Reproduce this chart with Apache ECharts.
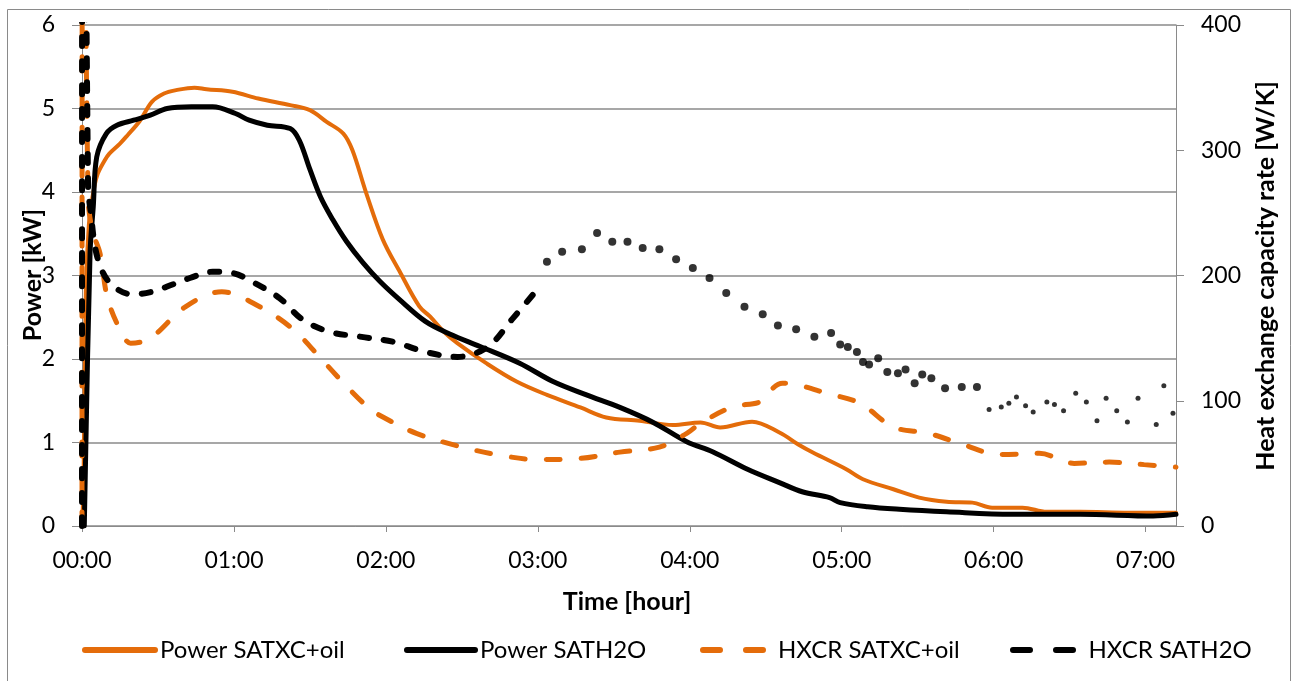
<!DOCTYPE html>
<html>
<head>
<meta charset="utf-8">
<script src="https://cdn.jsdelivr.net/npm/echarts@6/dist/echarts.min.js"></script>
<style>
	html, body { margin: 0; padding: 0; background: #fff; }
	#main { width: 1294px; height: 681px; }
</style>
</head>
<body>
<div id="main"></div>
<script>
// time in hours, power in kW, heat exchange capacity rate in W/K
let powerOilT = [0, 0.01, 0.025, 0.045, 0.07, 0.1, 0.15, 0.18, 0.25, 0.3, 0.38, 0.46, 0.54, 0.62, 0.74, 0.82, 0.99, 1.16, 1.37, 1.5, 1.61, 1.72, 1.78, 1.87, 1.98, 2.09, 2.22, 2.29, 2.38, 2.47, 2.66, 2.86, 3.06, 3.28, 3.45, 3.67, 3.89, 4.07, 4.2, 4.41, 4.59, 4.72, 4.81, 5.03, 5.14, 5.34, 5.51, 5.69, 5.86, 5.99, 6.19, 6.35, 6.57, 6.89, 7.2]
let powerOil = [0, 0.5, 2.8, 3.6, 3.95, 4.2, 4.38, 4.46, 4.58, 4.68, 4.85, 5.08, 5.18, 5.22, 5.25, 5.23, 5.2, 5.12, 5.04, 4.98, 4.84, 4.7, 4.5, 3.99, 3.43, 3.05, 2.63, 2.51, 2.33, 2.19, 1.95, 1.73, 1.57, 1.42, 1.3, 1.26, 1.21, 1.24, 1.18, 1.25, 1.12, 0.97, 0.88, 0.68, 0.56, 0.44, 0.34, 0.29, 0.28, 0.22, 0.22, 0.17, 0.17, 0.16, 0.16]

let powerH2oT = [0.015, 0.053, 0.074, 0.097, 0.16, 0.23, 0.34, 0.45, 0.56, 0.72, 0.86, 1.01, 1.1, 1.22, 1.37, 1.43, 1.5, 1.57, 1.65, 1.74, 1.85, 1.96, 2.09, 2.26, 2.42, 2.62, 2.88, 3.1, 3.32, 3.54, 3.76, 3.98, 4.15, 4.38, 4.59, 4.74, 4.92, 4.99, 5.17, 5.38, 5.69, 6.12, 6.57, 7.05, 7.2]
let powerH2o = [0, 3.27, 3.82, 4.42, 4.7, 4.8, 4.86, 4.92, 5.0, 5.02, 5.02, 4.94, 4.86, 4.8, 4.76, 4.62, 4.27, 3.94, 3.67, 3.41, 3.15, 2.93, 2.71, 2.45, 2.3, 2.15, 1.95, 1.73, 1.57, 1.42, 1.24, 1.01, 0.89, 0.68, 0.52, 0.41, 0.34, 0.28, 0.23, 0.2, 0.17, 0.14, 0.14, 0.12, 0.14]

let hxcrOilT = [0, 0.006, 0.04, 0.07, 0.118, 0.17, 0.27, 0.32, 0.45, 0.68, 0.92, 1.17, 1.39, 1.57, 1.73, 1.89, 1.98, 2.2, 2.47, 2.73, 3.0, 3.28, 3.54, 3.8, 3.98, 4.07, 4.28, 4.46, 4.51, 4.61, 4.7, 4.9, 5.12, 5.34, 5.57, 5.8, 6.04, 6.3, 6.53, 6.76, 6.99, 7.2]
let hxcrOil = [0, 700, 262, 235, 218, 181, 152, 146, 150, 175, 187, 175, 157, 134, 113, 94, 87, 74, 64, 57, 53, 54, 59, 63, 74, 82, 95, 99, 106, 114, 113, 106, 98, 79, 74, 65, 57, 58, 50, 51, 49, 47]

// dashed part of the water curve
let hxcrH2oT = [0, 0.004, 0.04, 0.055, 0.1, 0.184, 0.33, 0.46, 0.6, 0.71, 0.86, 0.99, 1.12, 1.3, 1.45, 1.63, 1.84, 2.05, 2.26, 2.47, 2.67, 2.83, 2.97]
let hxcrH2o = [0, 800, 271, 253, 215, 194, 185, 187, 193, 198, 203, 202, 195, 182, 165, 155, 151, 147, 139, 135, 143, 165, 185]
// dotted part of the water curve
let hxcrH2oDotT = [3.06, 3.16, 3.29, 3.39, 3.49, 3.59, 3.69, 3.8, 3.91, 4.02, 4.13, 4.24, 4.36, 4.48, 4.58, 4.7, 4.82, 4.93, 4.99, 5.04, 5.1, 5.14, 5.18, 5.24, 5.3, 5.37, 5.42, 5.48, 5.53, 5.59, 5.68, 5.79, 5.89, 5.97, 6.05, 6.1, 6.15, 6.21, 6.26, 6.35, 6.4, 6.46, 6.54, 6.61, 6.68, 6.74, 6.81, 6.88, 6.95, 7.07, 7.12, 7.18]
let hxcrH2oDot = [211, 219, 221, 234, 227, 227, 222, 221, 213, 206, 198, 186, 175, 169, 160, 157, 151, 154, 145, 143, 139, 131, 129, 134, 123, 122, 125, 114, 121, 118, 110, 111, 111, 93, 95, 98, 103, 96, 91, 99, 97, 92, 106, 99, 84, 102, 92, 83, 102, 81, 112, 90]

let hourTicks = [0, 1, 2, 3, 4, 5, 6, 7]

function zip(t, v) {
	return t.map(function(x, i) { return [x, v[i]] })
}

// two rounded dashes for the legend, with an empty point at the end to keep the text gap
let dashIcon = 'path://M3,0H20A3,3,0,0,1,20,6H3A3,3,0,0,1,3,0Z' +
	'M46,0H63A3,3,0,0,1,63,6H46A3,3,0,0,1,46,0Z' +
	'M73,3L73,3Z'

let orange = '#E46C0A'
let gray = '#8a8a8a'
let font = 'Lato'

let chart = echarts.init(document.getElementById('main'));

let legendBase = {
	top: 633,
	itemHeight: 14,
	textStyle: { fontSize: 24, color: '#000', fontFamily: font }
}

let option = {
	animation: false,
	textStyle: { fontFamily: font },
	grid: { left: 82, right: 118, top: 25, bottom: 155 },
	legend: [
		Object.assign({}, legendBase, { left: 77, itemWidth: 70, data: ['Power SATXC+oil'],
			itemStyle: { opacity: 0 }, lineStyle: { width: 6, cap: 'round' } }),
		Object.assign({}, legendBase, { left: 399, itemWidth: 68, data: ['Power SATH2O'],
			itemStyle: { opacity: 0 }, lineStyle: { width: 6, cap: 'round' } }),
		Object.assign({}, legendBase, { left: 695, itemWidth: 73, itemHeight: 6, icon: dashIcon,
			data: ['HXCR SATXC+oil'] }),
		Object.assign({}, legendBase, { left: 1005, itemWidth: 74, itemHeight: 6, icon: dashIcon,
			data: ['HXCR SATH2O'] })
	],
	xAxis: {
		type: 'value',
		min: 0,
		max: 7.2,
		interval: 1,
		axisLine: { lineStyle: { color: gray, width: 1 } },
		axisTick: { show: true, length: 6, customValues: hourTicks, lineStyle: { color: gray } },
		splitLine: { show: false },
		axisLabel: {
			customValues: hourTicks,
			margin: 23,
			fontSize: 23,
			color: '#000',
			formatter: function(v) {
				return '0' + v + ':00'
			}
		}
	},
	yAxis: [{
		type: 'value',
		min: 0,
		max: 6,
		interval: 1,
		axisLine: { show: true, lineStyle: { color: gray } },
		axisTick: { show: true, length: 10, lineStyle: { color: gray } },
		splitLine: { lineStyle: { color: gray, width: 1.5 } },
		axisLabel: { margin: 27, fontSize: 23, color: '#000' }
	}, {
		type: 'value',
		position: 'right',
		min: 0,
		max: 400,
		interval: 100,
		axisLine: { show: true, lineStyle: { color: gray } },
		axisTick: { show: true, length: 8, lineStyle: { color: gray } },
		splitLine: { show: false },
		axisLabel: { margin: 25, fontSize: 23, color: '#000' }
	}],
	graphic: [{
		type: 'rect',
		shape: { x: 7.5, y: 9.5, width: 1283, height: 680 },
		style: { fill: 'none', stroke: gray, lineWidth: 1 },
		silent: true
	}, {
		type: 'text',
		x: 33, y: 275,
		rotation: Math.PI / 2,
		style: { text: 'Power [kW]', fontSize: 25, fontWeight: 'bold', fontFamily: font, fill: '#000',
			align: 'center', verticalAlign: 'middle', textAlign: 'center', textVerticalAlign: 'middle' }
	}, {
		type: 'text',
		x: 1266, y: 276,
		rotation: Math.PI / 2,
		style: { text: 'Heat exchange capacity rate [W/K]', fontSize: 25, fontWeight: 'bold', fontFamily: font, fill: '#000',
			align: 'center', verticalAlign: 'middle', textAlign: 'center', textVerticalAlign: 'middle' }
	}, {
		type: 'text',
		x: 627, y: 602,
		style: { text: 'Time [hour]', fontSize: 25, fontWeight: 'bold', fontFamily: font, fill: '#000',
			align: 'center', verticalAlign: 'middle', textAlign: 'center', textVerticalAlign: 'middle' }
	}],
	series: [{
		name: 'Power SATXC+oil',
		type: 'line',
		symbol: 'none',
		smooth: 0.35,
		color: orange,
		lineStyle: { width: 4, color: orange, cap: 'round' },
		data: zip(powerOilT, powerOil)
	}, {
		name: 'Power SATH2O',
		type: 'line',
		symbol: 'none',
		smooth: 0.35,
		color: '#000',
		lineStyle: { width: 5, color: '#000', cap: 'round' },
		data: zip(powerH2oT, powerH2o)
	}, {
		name: 'HXCR SATXC+oil',
		type: 'line',
		yAxisIndex: 1,
		symbol: 'none',
		smooth: 0.35,
		color: orange,
		lineStyle: { width: 5, color: orange, type: [14, 21], cap: 'round' },
		data: zip(hxcrOilT, hxcrOil)
	}, {
		name: 'HXCR SATH2O',
		type: 'line',
		yAxisIndex: 1,
		symbol: 'none',
		smooth: 0.35,
		color: '#000',
		lineStyle: { width: 6, color: '#000', type: [9, 15], cap: 'round' },
		data: zip(hxcrH2oT, hxcrH2o)
	}, {
		name: 'HXCR SATH2O',
		type: 'scatter',
		yAxisIndex: 1,
		symbol: 'circle',
		symbolSize: function(val) {
			return val[0] > 5.9 ? 5 : 8
		},
		itemStyle: { color: '#000' },
		data: zip(hxcrH2oDotT, hxcrH2oDot)
	}]
};
chart.setOption(option);
</script>
</body>
</html>
